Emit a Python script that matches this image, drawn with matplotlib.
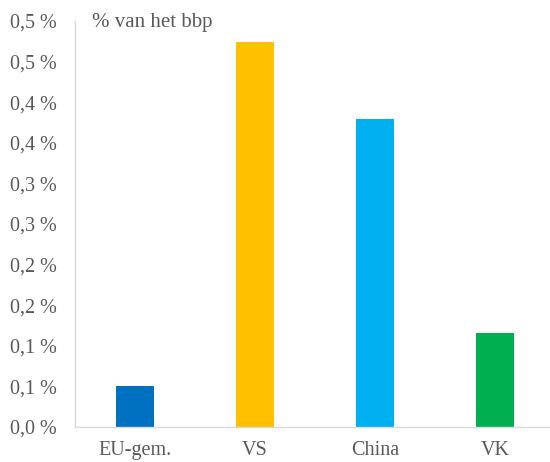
import matplotlib.pyplot as plt
from matplotlib.ticker import FuncFormatter
from decimal import Decimal, ROUND_HALF_UP

categories = ["EU-gem.", "VS", "China", "VK"]
values = [0.0505, 0.474, 0.379, 0.116]
colors = ["#0070C0", "#FFC000", "#00B0F0", "#00B050"]
yticks = [0.0, 0.05, 0.10, 0.15, 0.20, 0.25, 0.30, 0.35, 0.40, 0.45, 0.50]

plt.rcParams["font.family"] = ["Liberation Serif", "DejaVu Serif"]
txt = "#595959"


def pct(v, pos):
    # Excel style rounding (half up) to one decimal, comma as separator
    d = Decimal(str(round(v, 4))).quantize(Decimal("0.1"), rounding=ROUND_HALF_UP)
    return str(d).replace(".", ",") + " %"


fig = plt.figure(figsize=(5.5, 4.62), dpi=100)
ax = fig.add_axes([75 / 550, 1 - 427 / 462, 475 / 550, 406 / 462])

x = list(range(len(categories)))
ax.bar(x, values, width=0.31, color=colors)

ax.set_xlim(-0.5, 3.5 - 5 / 120)
ax.set_ylim(0, 0.5)
ax.set_xticks(x)
ax.set_xticklabels(categories)
ax.set_yticks(yticks)
ax.yaxis.set_major_formatter(FuncFormatter(pct))
ax.tick_params(axis="both", length=0, labelsize=14.5, colors=txt)
ax.tick_params(axis="y", pad=13)
ax.tick_params(axis="x", pad=10)

for s in ["top", "right"]:
    ax.spines[s].set_visible(False)
for s in ["left", "bottom"]:
    ax.spines[s].set_color("#D9D9D9")
    ax.spines[s].set_linewidth(1.0)

fig.text(92 / 550, 1 - 22 / 462, "% van het bbp", fontsize=15, color=txt,
         va="center", ha="left")

fig.savefig("out.png", dpi=100)
